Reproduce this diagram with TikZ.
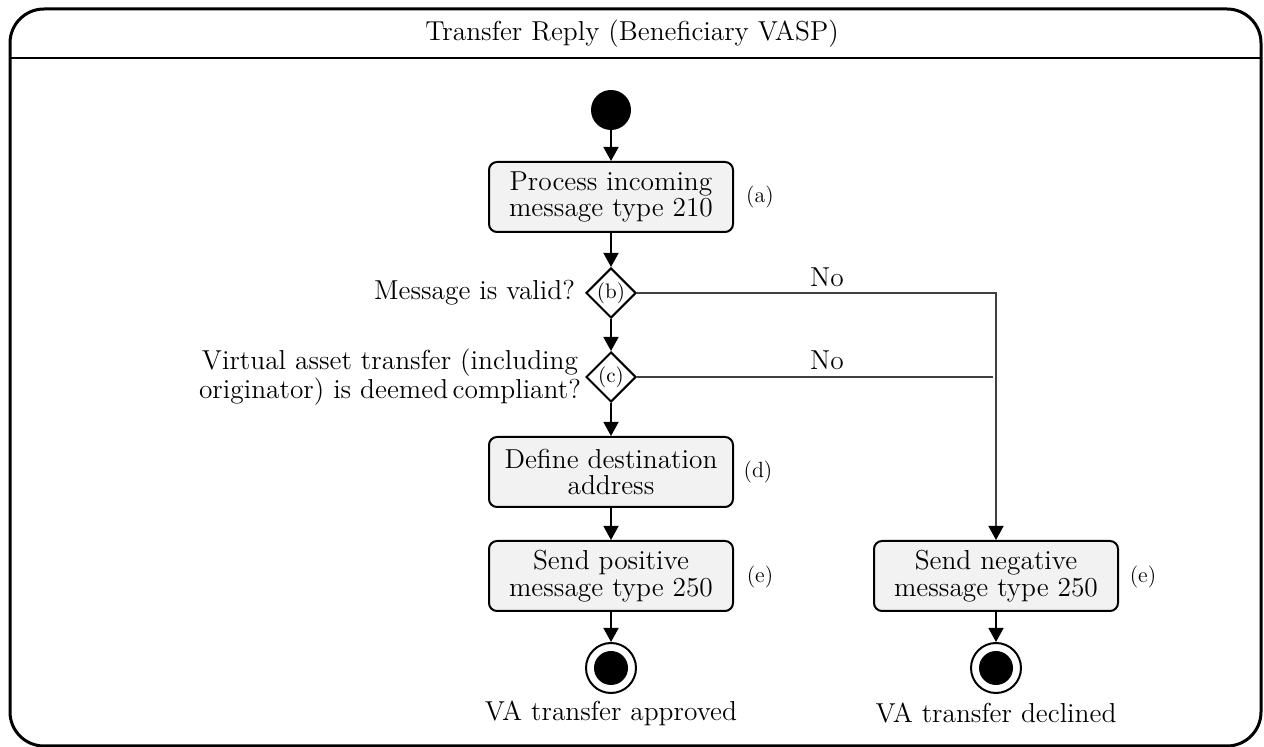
\documentclass[tikz,border=0pt]{standalone}
\usetikzlibrary{arrows.meta,shapes.geometric}
\definecolor{boxfill}{HTML}{F2F2F2}
\definecolor{branchline}{HTML}{404040}
\begin{document}
\begin{tikzpicture}[x=0.5pt,y=-0.5pt,
  every node/.style={font=\fontsize{13.7}{13.2}\selectfont},
  action/.style={draw,line width=1pt,rounded corners=4pt,fill=boxfill,
    minimum width=122pt,minimum height=35pt,align=center,inner sep=2pt},
  decision/.style={draw,diamond,line width=1pt,minimum width=25pt,minimum height=25pt,
    inner sep=0pt,fill=white,font=\fontsize{10.5}{10.5}\selectfont},
  tag/.style={font=\fontsize{11}{11}\selectfont},
  startdot/.style={circle,fill=black,minimum size=20pt,inner sep=0pt},
  enddot/.style={circle,draw,line width=1pt,minimum size=25pt,inner sep=0pt,
    path picture={\fill (path picture bounding box.center) circle (8.5pt);}},
  flow/.style={line width=0.75pt,-{Triangle[length=7pt,width=7.5pt]}},
  branch/.style={line width=0.75pt,draw=branchline}]

  \useasboundingbox (0,0) rectangle (1264,747);

  % swimlane frame with its header
  \draw[line width=1.5pt,rounded corners=17pt] (10,9) rectangle (1261,746);
  \draw[line width=0.8pt] (10,58) -- (1261,58);
  \node (title) at (632,34) {Transfer Reply (Beneficiary VASP)};

  % main column
  \node[startdot] (start) at (611,110) {};
  \node[action] (a) at (611,197) {Process incoming\\message type 210};
  \node[tag] (ta) at (760,197) {(a)};
  \node[decision] (b) at (611,293) {(b)};
  \node[anchor=east] (qb) at (582,293) {Message is valid?};
  \node[decision] (c) at (611,377) {(c)};
  \node[anchor=east,align=center] (qc) at (588,377)
    {Virtual asset transfer (including\\originator) is deemed\,compliant?};
  \node[action] (d) at (611,472) {Define destination\\address};
  \node[tag] (td) at (758,472) {(d)};
  \node[action] (pos) at (611,576) {Send positive\\message type 250};
  \node[tag] (tpos) at (760,577) {(e)};
  \node[enddot] (endpos) at (611,668) {};
  \node (lpos) at (611,713) {VA transfer approved};

  % rejection column
  \node[action] (neg) at (996,576) {Send negative\\message type 250};
  \node[tag] (tneg) at (1143,577) {(e)};
  \node[enddot] (endneg) at (996,668) {};
  \node (lneg) at (996,713) {VA transfer declined};

  % connectors
  \draw[flow] (start) -- (a);
  \draw[flow] (a) -- (b);
  \draw[flow] (b) -- (c);
  \draw[flow] (c) -- (d);
  \draw[flow] (d) -- (pos);
  \draw[flow] (pos) -- (endpos);
  \draw[flow] (neg) -- (endneg);

  % rejection branches
  \draw[branch,-{Triangle[length=7pt,width=7.5pt,color=black]}] (b.east) -| (neg.north);
  \coordinate (cjoin) at (993,377);
  \draw[branch] (c.east) -- (cjoin);
  \node (nob) at (827,277) {No};
  \node (noc) at (827,360) {No};
\end{tikzpicture}
\end{document}
